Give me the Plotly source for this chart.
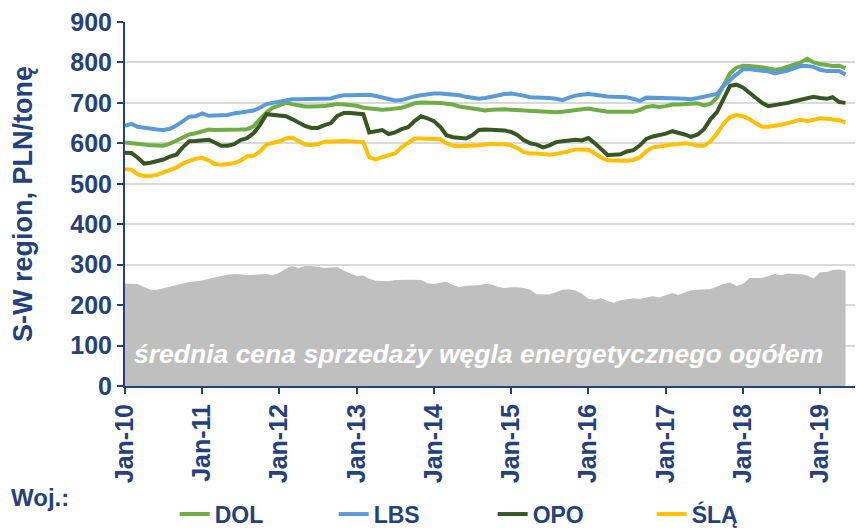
import pandas as pd
import plotly.graph_objects as go

# monthly values, Jan-2010 .. May-2019 (PLN/tonne)
dol = [602, 601, 600, 597, 595, 594, 594, 599, 606, 615, 622, 625, 630, 634, 633, 633, 632, 632, 634, 635,
       642, 660, 676, 688, 695, 700, 697, 693, 691, 691, 691, 692, 695, 697, 696, 695, 693, 688, 686, 684,
       683, 684, 686, 688, 693, 699, 701, 701, 701, 700, 698, 696, 691, 688, 686, 683, 681, 683, 684, 684,
       683, 682, 681, 680, 678, 677, 676, 677, 678, 680, 682, 684, 686, 683, 680, 678, 678, 678, 677, 678,
       683, 690, 692, 690, 692, 696, 696, 697, 697, 699, 694, 698, 713, 745, 773, 787, 792, 791, 790, 788,
       785, 782, 784, 790, 795, 800, 809, 800, 796, 793, 791, 792, 786]
lbs = [643, 648, 641, 638, 636, 634, 633, 636, 644, 655, 666, 667, 674, 668, 668, 669, 670, 674, 676, 678,
       681, 688, 697, 700, 703, 708, 709, 709, 709, 709, 709, 709, 711, 716, 719, 719, 719, 720, 720, 717,
       713, 709, 706, 707, 712, 716, 719, 722, 723, 723, 722, 721, 719, 715, 712, 710, 712, 716, 719, 722,
       723, 721, 718, 714, 714, 714, 712, 710, 707, 713, 718, 720, 722, 720, 717, 716, 715, 715, 714, 710,
       705, 713, 713, 711, 711, 711, 711, 710, 709, 712, 715, 718, 722, 742, 758, 770, 783, 784, 781, 780,
       778, 773, 776, 780, 786, 791, 791, 789, 782, 779, 779, 779, 770]
opo = [577, 576, 565, 550, 552, 555, 560, 567, 572, 590, 605, 606, 607, 609, 602, 594, 594, 598, 608, 613,
       625, 645, 672, 670, 669, 667, 660, 652, 643, 638, 638, 645, 650, 668, 675, 675, 674, 672, 627, 630,
       633, 623, 627, 635, 640, 655, 667, 662, 655, 640, 620, 615, 613, 612, 620, 633, 634, 633, 632, 632,
       628, 620, 608, 600, 597, 590, 595, 603, 605, 607, 609, 607, 613, 600, 585, 571, 572, 573, 580, 583,
       595, 611, 617, 620, 624, 630, 627, 622, 616, 622, 635, 660, 678, 710, 742, 745, 738, 725, 712, 700,
       692, 694, 697, 700, 704, 708, 712, 715, 712, 710, 714, 702, 700]
sla = [536, 535, 524, 519, 519, 522, 528, 534, 540, 550, 557, 562, 564, 558, 549, 547, 549, 551, 557, 568,
       569, 580, 597, 600, 605, 612, 614, 606, 597, 596, 598, 604, 605, 606, 606, 605, 604, 603, 565, 560,
       566, 570, 575, 590, 600, 612, 612, 611, 611, 610, 600, 594, 593, 593, 594, 595, 597, 599, 598, 598,
       595, 588, 578, 575, 575, 573, 572, 574, 576, 580, 585, 585, 584, 575, 565, 558, 557, 556, 557, 559,
       565, 580, 590, 592, 595, 597, 598, 600, 598, 594, 594, 605, 625, 648, 665, 670, 667, 660, 650, 641,
       641, 643, 646, 650, 655, 658, 655, 658, 662, 661, 660, 657, 652]
avg_price = [253, 253, 252, 245, 238, 238, 242, 246, 250, 254, 257, 259, 261, 265, 269, 272, 275, 277, 276, 274,
             275, 276, 277, 274, 280, 290, 297, 292, 297, 297, 294, 292, 293, 294, 285, 278, 272, 273, 265, 260,
             259, 259, 262, 263, 263, 263, 262, 254, 252, 255, 258, 250, 244, 248, 249, 249, 253, 251, 245, 242,
             244, 244, 242, 238, 227, 226, 226, 232, 238, 239, 236, 229, 216, 213, 217, 210, 206, 212, 214, 217,
             215, 218, 222, 219, 225, 230, 225, 232, 237, 238, 239, 240, 246, 252, 256, 247, 252, 267, 267, 267,
             272, 277, 274, 278, 277, 276, 273, 266, 281, 282, 287, 288, 285]

dates = pd.date_range("2010-01-01", periods=len(dol), freq="MS")

NAVY = "#25407A"
FONT = "Liberation Sans, Arial, sans-serif"

fig = go.Figure()
fig.add_trace(go.Scatter(
    x=dates, y=avg_price, mode="lines", fill="tozeroy",
    fillcolor="#BFBFBF", line=dict(width=0, color="#BFBFBF"),
    showlegend=False, hoverinfo="skip",
))
for name, vals, color in [("DOL", dol, "#70AD47"), ("LBS", lbs, "#5B9BD5"),
                          ("OPO", opo, "#375623"), ("ŚLĄ", sla, "#FFC000")]:
    fig.add_trace(go.Scatter(x=dates, y=vals, name=name, mode="lines",
                             line=dict(color=color, width=4)))

fig.add_annotation(
    text="<b><i>średnia cena sprzedaży węgla energetycznego ogółem</i></b>",
    xref="paper", yref="paper", x=0.484, y=0.04, showarrow=False,
    font=dict(family=FONT, size=26.5, color="white"),
)
fig.add_annotation(
    text="<b>Woj.:</b>", xref="paper", yref="paper", x=-0.159, y=-0.305,
    xanchor="left", yanchor="middle", showarrow=False,
    font=dict(family=FONT, size=24, color=NAVY),
)

fig.update_layout(
    width=856, height=530,
    margin=dict(l=125, r=1, t=22, b=144),
    paper_bgcolor="white", plot_bgcolor="white",
    font=dict(family=FONT, color=NAVY),
    legend=dict(orientation="h", yref="container", y=0.03, yanchor="middle",
                x=0.068, xanchor="left", entrywidth=114,
                font=dict(family=FONT, size=23, color=NAVY, weight="bold")),
)
fig.update_yaxes(
    range=[0, 900], dtick=100, showgrid=True, gridcolor="#D9D9D9", gridwidth=2,
    showline=True, linecolor=NAVY, linewidth=2, ticks="outside", ticklen=6,
    tickcolor=NAVY, tickwidth=2, zeroline=False,
    tickfont=dict(family=FONT, size=25, color=NAVY, weight="bold"),
    title=dict(text="<b>S-W region, PLN/tonę</b>", standoff=30,
               font=dict(family=FONT, size=27, color=NAVY)),
)
fig.update_xaxes(
    range=["2010-01-01", "2019-06-15"], dtick="M12", tick0="2010-01-01",
    tickformat="%b-%y", tickangle=-90, showgrid=False,
    showline=True, linecolor=NAVY, linewidth=2, ticks="outside", ticklen=6,
    tickcolor=NAVY, tickwidth=2,
    tickfont=dict(family=FONT, size=25, color=NAVY, weight="bold"),
)

# page body has a default margin; drop it so the figure fills the window
fig.write_html("out.html", config={"displayModeBar": False},
               post_script="document.body.style.margin='0';")
